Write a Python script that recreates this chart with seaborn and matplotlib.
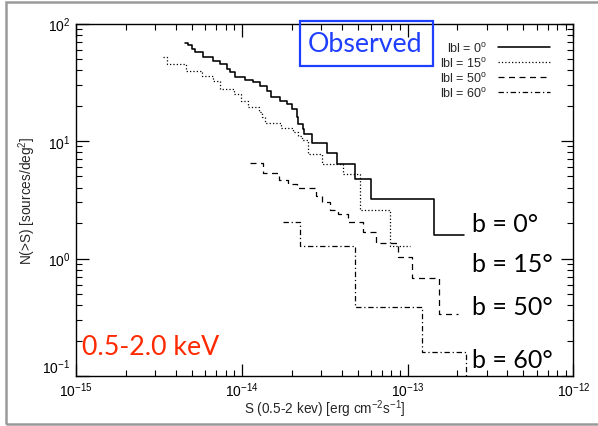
import matplotlib
matplotlib.use("Agg")
import matplotlib.pyplot as plt
import seaborn as sns
import pandas as pd
from matplotlib.patches import Rectangle
from matplotlib.lines import Line2D

# ---- data (flux S in erg cm^-2 s^-1, N(>S) in sources/deg^2) ----
S_b0 = [4.55e-15, 4.74e-15, 4.99e-15, 5.23e-15, 5.84e-15, 6.71e-15, 7.40e-15, 8.12e-15,
        8.50e-15, 9.11e-15, 1.047e-14, 1.170e-14, 1.289e-14, 1.416e-14, 1.496e-14,
        1.703e-14, 1.869e-14, 2.003e-14, 2.147e-14, 2.187e-14, 2.344e-14, 2.377e-14,
        2.668e-14, 3.258e-14, 3.775e-14, 4.83e-14, 6.03e-14, 1.447e-13, 2.205e-13]
N_b0 = [67.6, 65.0, 60.5, 56.7, 51.4, 48.2, 45.1, 40.9, 38.3, 35.3, 33.0, 31.5, 29.6,
        26.8, 23.8, 22.0, 20.6, 18.7, 15.9, 13.9, 12.6, 11.4, 9.56, 7.97, 6.43, 4.73,
        3.18, 1.58, 1.58]

S_b15 = [3.36e-15, 3.53e-15, 4.61e-15, 5.76e-15, 6.66e-15, 7.40e-15, 8.98e-15, 9.90e-15,
         1.091e-14, 1.272e-14, 1.326e-14, 1.382e-14, 1.727e-14, 2.040e-14, 2.187e-14,
         2.312e-14, 2.523e-14, 3.04e-14, 4.10e-14, 5.14e-14, 7.85e-14, 1.037e-13]
N_b15 = [52.1, 45.5, 39.6, 35.9, 32.6, 27.8, 24.9, 22.0, 19.3, 17.5, 15.9, 14.1, 13.0,
         11.9, 10.96, 10.1, 7.82, 6.43, 5.21, 2.59, 1.29, 1.29]

S_b50 = [1.122e-14, 1.345e-14, 1.680e-14, 1.903e-14, 2.156e-14, 2.808e-14, 3.05e-14,
         3.41e-14, 3.79e-14, 4.38e-14, 5.395e-14, 6.46e-14, 8.78e-14, 1.062e-13,
         1.558e-13, 2.029e-13]
N_b50 = [6.46, 5.39, 4.66, 4.29, 4.02, 3.41, 3.00, 2.59, 2.38, 2.05, 1.69, 1.35, 1.02,
         0.678, 0.337, 0.337]

S_b60 = [1.768e-14, 2.248e-14, 4.83e-14, 1.220e-13, 2.248e-13]
N_b60 = [2.05, 1.28, 0.384, 0.161, 0.05]

x_ticks = [1e-15, 1e-14, 1e-13, 1e-12]
y_ticks = [1e-1, 1e0, 1e1, 1e2]
legend_labels = ["lbl = 0$^{\\mathrm{o}}$", "lbl = 15$^{\\mathrm{o}}$",
                 "lbl = 50$^{\\mathrm{o}}$", "lbl = 60$^{\\mathrm{o}}$"]
b_labels = ["b = 0°", "b = 15°", "b = 50°", "b = 60°"]

# ---- style ----
sns.set_style("white")
plt.rcParams["font.family"] = ["Liberation Sans", "DejaVu Sans"]
plt.rcParams["mathtext.fontset"] = "custom"
plt.rcParams["mathtext.rm"] = "Liberation Sans"
plt.rcParams["mathtext.it"] = "Liberation Sans:italic"
plt.rcParams["mathtext.bf"] = "Liberation Sans:bold"

W, H = 598, 427
fig = plt.figure(figsize=(W / 100, H / 100), dpi=100)
ax = fig.add_axes([76 / W, 1 - 377 / H, (573.3 - 76) / W, (377 - 24.5) / H])

styles = [
    dict(linestyle="-", linewidth=1.15),
    dict(linestyle=(0, (1.0, 1.7)), linewidth=0.9),
    dict(linestyle=(0, (4.8, 3.6)), linewidth=0.9),
    dict(linestyle=(0, (4.3, 2.2, 1.0, 2.2)), linewidth=0.9),
]
series = [(S_b0, N_b0), (S_b15, N_b15), (S_b50, N_b50), (S_b60, N_b60)]
for (s, n), st in zip(series, styles):
    df = pd.DataFrame({"S": s, "N": n})
    sns.lineplot(data=df, x="S", y="N", ax=ax, color="black", drawstyle="steps-post",
                 estimator=None, sort=False, **st)

ax.set_xscale("log")
ax.set_yscale("log")
ax.set_xlim(1e-15, 1e-12)
ax.set_ylim(1e-1, 1e2)
ax.set_xticks(x_ticks)
ax.set_yticks(y_ticks)

for sp in ax.spines.values():
    sp.set_color("black")
    sp.set_linewidth(1.0)

ax.tick_params(which="both", direction="in", top=True, right=True, bottom=True, left=True,
               colors="black", labelsize=10)
ax.tick_params(which="major", length=9, width=0.9)
ax.tick_params(which="minor", length=4.5, width=0.8)
ax.tick_params(axis="x", which="major", pad=3)
ax.tick_params(axis="y", which="major", pad=4)

fig.canvas.draw()
ylabs = ax.get_yticklabels()
ylabs[0].set_va("bottom")

ax.set_xlabel("S (0.5-2 kev) [erg cm$^{-2}$s$^{-1}$]", fontsize=9.8, labelpad=-1)
ax.set_ylabel("N(>S) [sources/deg$^{2}$]", fontsize=9.8, labelpad=3)

# legend
handles = [Line2D([], [], color="black", **st) for st in styles]
leg = ax.legend(handles, legend_labels, markerfirst=False, frameon=False, fontsize=9,
                loc="upper right", bbox_to_anchor=(550 / W, 1 - 41.5 / H),
                bbox_transform=fig.transFigure, borderaxespad=0, borderpad=0,
                handlelength=4.2, handletextpad=0.8, labelspacing=0.08)

# "Observed" box
fig.patches.append(Rectangle((300 / W, 1 - 66.7 / H), 132.7 / W, 45 / H,
                             transform=fig.transFigure, fill=False,
                             edgecolor="#1f3fff", linewidth=1.6))
fig.text(365.5 / W, 1 - 44.5 / H, "Observed", color="#1f3fff", fontsize=19.3,
         family="Lato", ha="center", va="center")

# b labels
for lab, yb in zip(b_labels, [231.7, 271.7, 315, 368]):
    fig.text(471.5 / W, 1 - yb / H, lab, fontsize=18, family="Lato",
             ha="left", va="baseline", color="black")

fig.text(81.7 / W, 1 - 355 / H, "0.5-2.0 keV", fontsize=19.3, family="Lato",
         ha="left", va="baseline", color="#ff2a00")

# figure frame
fig.patches.append(Rectangle((5.5 / W, 1 - 425 / H), 600 / W, 422 / H,
                             transform=fig.transFigure, fill=False,
                             edgecolor="#9a9a9a", linewidth=1.8))

fig.savefig("out.png", dpi=100)
